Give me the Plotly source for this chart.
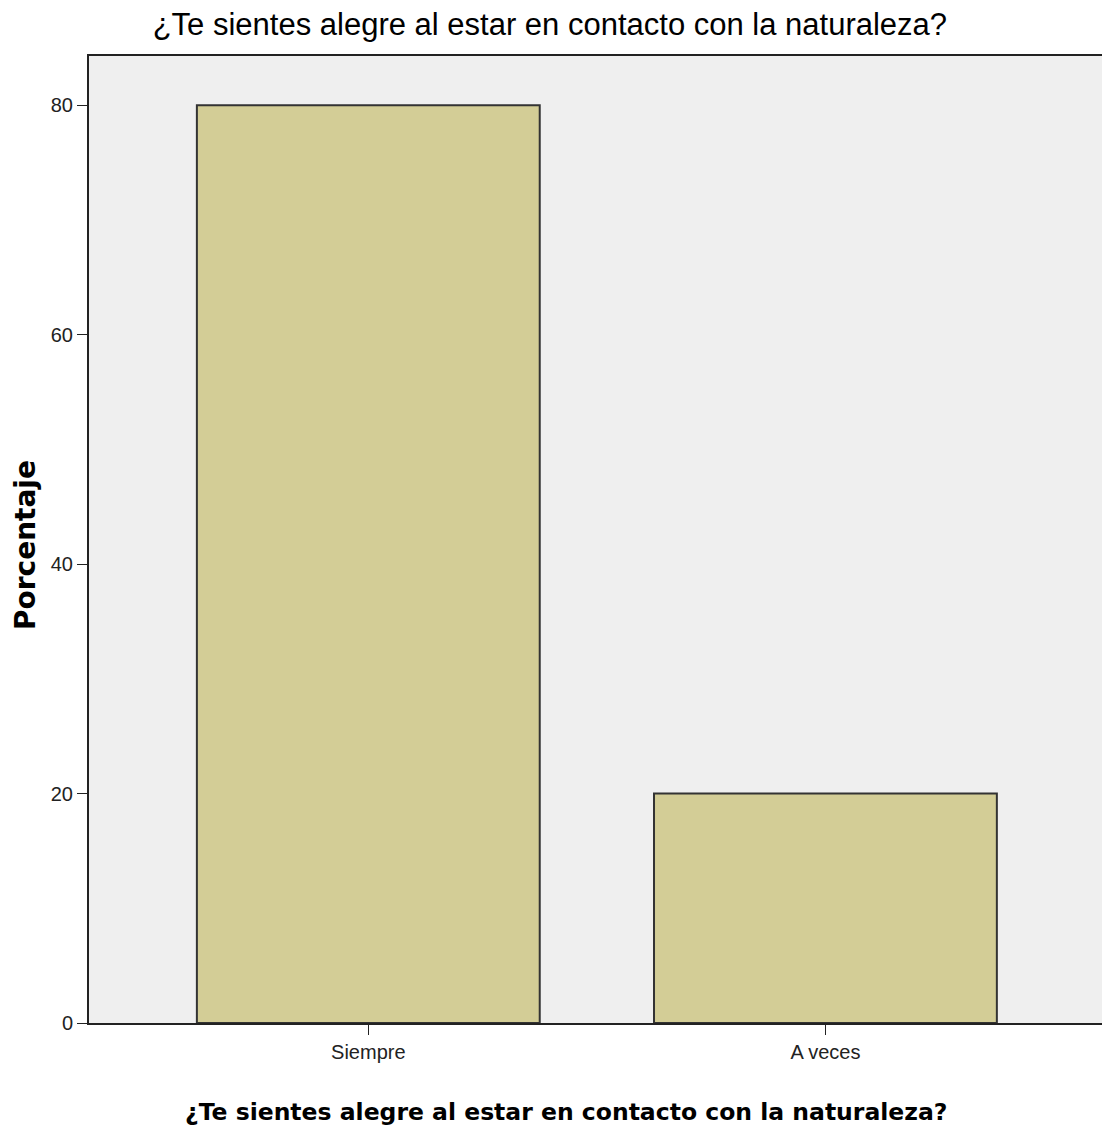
import plotly.graph_objects as go

categories = ["Siempre", "A veces"]
values = [80, 20]
y_ticks = [0, 20, 40, 60, 80]
title_text = "¿Te sientes alegre al estar en contacto con la naturaleza?"
y_title = "Porcentaje"

fig = go.Figure()
fig.add_trace(go.Bar(
    x=categories, y=values, width=0.75,
    marker=dict(color="#d3cd96", line=dict(color="#333333", width=2)),
))

sans = "Liberation Sans, Arial, sans-serif"
bold = "DejaVu Sans, Verdana, sans-serif"
fig.update_layout(
    width=1102, height=1130,
    margin=dict(l=89, r=0, t=56, b=107),
    paper_bgcolor="white", plot_bgcolor="#efefef",
    title=dict(text=title_text, x=0.499, xanchor="center", y=1 - 24 / 1130, yanchor="middle",
               yref="container", font=dict(family=sans, size=31, color="black")),
    showlegend=False,
)
fig.update_xaxes(
    range=[-0.611, 1.605], showline=True, linecolor="#222", linewidth=2, mirror=True,
    ticks="outside", ticklen=10, tickcolor="#222", tickwidth=1,
    tickfont=dict(family=sans, size=20, color="#222"),
    showgrid=False,
)
fig.update_yaxes(
    range=[0, 84.3], tickvals=y_ticks, showline=True, linecolor="#222", linewidth=2,
    ticks="outside", ticklen=10, tickcolor="#222",
    tickfont=dict(family=sans, size=20, color="#222"),
    showgrid=False, zeroline=False,
)
fig.add_annotation(text=title_text, xref="paper", yref="paper",
                   x=(566 - 89) / 1013, y=(1023 - 1112) / 967, xanchor="center", yanchor="middle",
                   showarrow=False, font=dict(family=bold, size=23.5, color="black", weight="bold"))
fig.add_annotation(text=y_title, xref="paper", yref="paper", textangle=-90,
                   x=(25 - 89) / 1013, y=(1023 - 545) / 967, xanchor="center", yanchor="middle",
                   showarrow=False, font=dict(family=bold, size=28, color="black", weight="bold"))
fig.write_html("out.html", config={"displayModeBar": False},
               post_script="document.body.style.margin='0';document.body.style.overflow='hidden';")
